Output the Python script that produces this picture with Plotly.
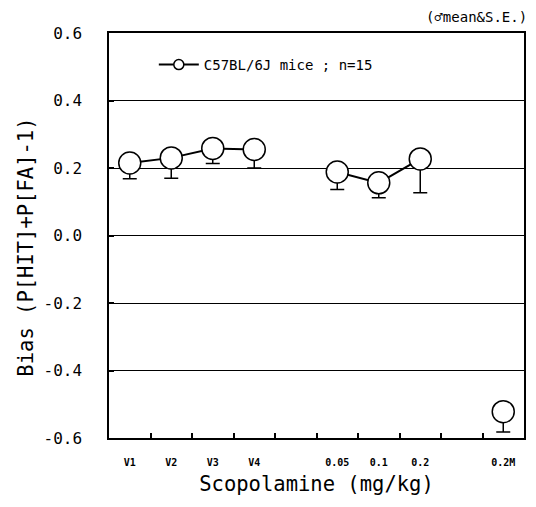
import plotly.graph_objects as go

categories = ["V1", "V2", "V3", "V4", " ", "0.05", "0.1", "0.2", "  ", "0.2M"]
group_vehicle = ["V1", "V2", "V3", "V4"]
vehicle_mean = [0.215, 0.230, 0.258, 0.255]
vehicle_se = [0.047, 0.060, 0.045, 0.055]
group_scop = ["0.05", "0.1", "0.2"]
scop_mean = [0.188, 0.156, 0.227]
scop_se = [0.052, 0.044, 0.100]
group_m = ["0.2M"]
m_mean = [-0.522]
m_se = [0.060]
y_tickvals = [-0.6, -0.4, -0.2, 0.0, 0.2, 0.4, 0.6]
y_ticktext = ["-0.6", "-0.4", "-0.2", "0.0", "0.2", "0.4", "0.6"]

MONO = "DejaVu Sans Mono, monospace"

fig = go.Figure()

def add_group(x, y, se):
    fig.add_trace(go.Scatter(
        x=x, y=y, mode="lines+markers", showlegend=False,
        line=dict(color="black", width=2),
        marker=dict(size=22, color="white", line=dict(color="black", width=1.5)),
        error_y=dict(type="data", symmetric=False, array=[0] * len(se), arrayminus=se,
                     color="black", thickness=1.5, width=7),
    ))

add_group(group_vehicle, vehicle_mean, vehicle_se)
add_group(group_scop, scop_mean, scop_se)
add_group(group_m, m_mean, m_se)

fig.add_trace(go.Scatter(
    x=[None], y=[None], mode="lines+markers", name="C57BL/6J mice ; n=15",
    line=dict(color="black", width=2),
    marker=dict(size=10, color="white", line=dict(color="black", width=1.5)),
))

fig.update_layout(
    width=536, height=507,
    margin=dict(l=109, r=10, t=33, b=69),
    paper_bgcolor="white", plot_bgcolor="white",
    font=dict(family=MONO, color="black"),
    showlegend=True,
    legend=dict(x=0.108, y=0.921, xanchor="left", yanchor="middle",
                bgcolor="rgba(0,0,0,0)", font=dict(size=14, family=MONO), itemwidth=40),
    xaxis=dict(
        type="category", categoryorder="array", categoryarray=categories,
        range=[-0.5, 9.5], tickson="boundaries", ticks="inside", ticklen=5,
        tickcolor="black", tickwidth=1.5,
        showline=True, mirror=True, linecolor="black", linewidth=1.5,
        showgrid=False,
        tickfont=dict(size=10, family="DejaVu Sans Mono, monospace", weight="bold"),
        ticklabelstandoff=14,
        title=dict(text="Scopolamine (mg/kg)", font=dict(size=20.5, family=MONO), standoff=10),
    ),
    yaxis=dict(
        range=[-0.6, 0.6], tickmode="array", tickvals=y_tickvals, ticktext=y_ticktext,
        ticks="inside", ticklen=5, tickcolor="black", tickwidth=1.5,
        showline=True, mirror=True, linecolor="black", linewidth=1.5,
        showgrid=True, gridcolor="black", gridwidth=1,
        zeroline=True, zerolinecolor="black", zerolinewidth=1,
        tickfont=dict(size=16, family=MONO), ticklabelstandoff=22,
    ),
    annotations=[
        dict(text="(\u2642mean&S.E.)", xref="paper", yref="paper",
             x=1.0, y=1.0, xanchor="right", yanchor="bottom", yshift=6, xshift=5,
             showarrow=False, font=dict(size=14, family=MONO)),
        dict(text="Bias (P[HIT]+P[FA]-1)", xref="paper", yref="paper",
             x=-0.2, y=0.47, xanchor="center", yanchor="middle", textangle=-90,
             showarrow=False, font=dict(size=20.5, family=MONO)),
    ],
)

fig.write_html("out.html")
